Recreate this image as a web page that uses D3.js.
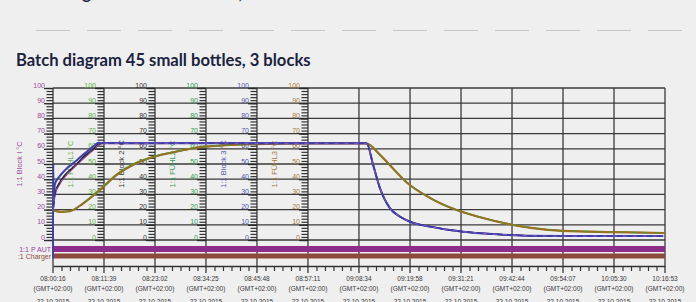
<!DOCTYPE html>
<meta charset="utf-8">
<style>
  body { margin: 0; background: #efefef; }
  svg { display: block; background: #efefef; }
  .lbl { font-family: "Liberation Sans", Arial, sans-serif; }
  .ttl { font-family: Lato, "Open Sans", sans-serif; font-weight: bold; fill: #1b2240; }
</style>
<svg width="696" height="302"></svg>
<script src="https://cdn.jsdelivr.net/npm/d3@7"></script>
<script>

// time axis labels (12 steps of 11:23)
var tickTimes = ["08:00:16","08:11:39","08:23:02","08:34:25","08:45:48","08:57:11",
                 "09:08:34","09:19:58","09:31:21","09:42:44","09:54:07","10:05:30","10:16:53"];
var tickZone = "(GMT+02:00)";
var tickDate = "22.10.2015";

// y axes, one per channel
var axisNames  = ["1:1 Block I °C", "1:1 FÜHL1 °C", "1:1 Block 2 °C", "1:1 FÜHL2 °C", "1:1 Block 3 °C", "1:1 FÜHL3 °C"];
var axisColors = ["#9b4a9b", "#5fb043", "#333333", "#339a55", "#5555aa", "#a87a38"];

// block temperatures, minutes after start
var blockMin = [0, 0.45, 1.5, 2.7, 4.9, 7.1, 9.4, 10.1, 11, 20, 35, 50, 60, 70, 71.5, 73, 75.2, 77.5, 79.7, 84.2, 91.5, 99, 106.5, 113.8, 136.2];
var block1   = [19, 30, 37, 42, 48.5, 54.5, 60.5, 62.5, 63.6, 63.6, 63.7, 63.6, 63.6, 63.6, 49, 34, 21, 15.3, 12, 8.8, 5.5, 3.8, 2.8, 2.6, 2.6];
var block2   = [19, 31, 38, 43, 49, 55.5, 61, 63, 63.7, 63.6, 63.7, 63.6, 63.6, 63.6, 49, 34, 21, 15.3, 12, 8.8, 5.5, 3.8, 2.8, 2.6, 2.6];
var block3   = [20, 37, 42, 46, 51.5, 57, 62.5, 64, 63.8, 63.6, 63.7, 63.6, 63.6, 63.6, 49, 34, 21, 15.3, 12, 8.8, 5.5, 3.8, 2.8, 2.6, 2.6];
// start spike of block 3
var spikeMin = [0, 0.08, 0.2];
var spikeVal = [-12, 50, 24];

// product sensor temperatures
var sensorMin = [0, 1.6, 3.8, 6.7, 10.5, 14.3, 17.9, 21.7, 29, 32.8, 44, 55, 69.9, 73, 75.9, 78.9, 84.2, 90.1, 95.3, 102.7, 107.1, 113.8, 125, 136.6];
var sensor1   = [19.5, 18.6, 19.2, 24.3, 33.5, 43.5, 50, 54.3, 59.2, 61.2, 63.1, 63.6, 63.6, 56.2, 47.2, 38.2, 27.8, 19.9, 15.1, 10, 7.9, 6.1, 5.3, 4.7];
var sensor2   = [19.5, 18.5, 19, 24, 33, 43, 49.5, 54, 59, 61, 63, 63.6, 63.6, 56, 47, 38, 27.6, 19.7, 15, 9.9, 7.8, 6, 5.2, 4.6];
var sensor3   = [19.5, 18.5, 19, 24, 33, 43, 49.5, 54, 59, 61, 63, 63.6, 63.6, 56, 47, 38, 27.6, 19.7, 15, 9.9, 7.8, 6, 5.2, 4.6];

var svg = d3.select("svg");
var parse = d3.timeParse("%H:%M:%S");
var ticks = tickTimes.map(parse);
var t0 = ticks[0];
function at(m) { return new Date(t0.getTime() + m * 60000); }

var x = d3.scaleTime().domain([ticks[0], ticks[ticks.length - 1]]).range([53, 665]);
var y = d3.scaleLinear().domain([0, 100]).range([240, 88]);

// leftovers of the chart above
svg.append("text").attr("class", "ttl").attr("x", 14).attr("y", -1)
    .style("font-size", "16.5px").text("Batch diagram 30 small bottles, 2 blocks");
svg.append("g").selectAll("line").data(ticks).enter().append("line")
    .attr("x1", function(d) { return x(d) - 17; })
    .attr("x2", function(d) { return x(d) + 17; })
    .attr("y1", 30.5).attr("y2", 30.5)
    .attr("stroke", "#c6c6c6").attr("stroke-width", 1);

// title
svg.append("text").attr("class", "ttl").attr("x", 16).attr("y", 66)
    .style("font-size", "16.6px").text("Batch diagram 45 small bottles, 3 blocks");

// grid
var grid = svg.append("g").attr("stroke", "#3a3a3a").attr("stroke-width", 1.3);
grid.selectAll(".h").data(d3.range(0, 101, 10)).enter().append("line")
    .attr("x1", 53).attr("x2", 665)
    .attr("y1", function(d) { return y(d); }).attr("y2", function(d) { return y(d); });
grid.selectAll(".v").data(ticks).enter().append("line")
    .attr("x1", function(d) { return x(d); }).attr("x2", function(d) { return x(d); })
    .attr("y1", 88).attr("y2", 273);

// status bands
svg.append("rect").attr("x", 53).attr("width", 612).attr("y", 246).attr("height", 6).attr("fill", "#8c2d8c");
svg.append("rect").attr("x", 53).attr("width", 612).attr("y", 253.5).attr("height", 5).attr("fill", "#8b4a3b");
svg.append("text").attr("class", "lbl").attr("x", 51).attr("y", 251.5).attr("text-anchor", "end")
    .attr("fill", "#9b3a9b").style("font-size", "7px").text("1:1 P AUT");
svg.append("text").attr("class", "lbl").attr("x", 51).attr("y", 259).attr("text-anchor", "end")
    .attr("fill", "#8b4a3b").style("font-size", "7px").text(":1 Charger");

// time axis
var minor = [];
for (var i = 0; i < ticks.length - 1; i++)
  for (var k = 1; k < 6; k++) minor.push(new Date(ticks[i].getTime() + (ticks[i + 1] - ticks[i]) * k / 6));
var xa = svg.append("g").attr("transform", "translate(0,266)")
    .call(d3.axisBottom(x).tickValues(minor).tickSize(5).tickSizeOuter(0).tickFormat(""));
xa.select(".domain").attr("stroke", "#333").attr("stroke-width", 1.3);
xa.selectAll(".tick line").attr("stroke", "#333").attr("stroke-width", 1.2);

var tl = svg.append("g").attr("class", "lbl").attr("fill", "#3a3a3a").style("font-size", "6.5px")
    .attr("text-anchor", "middle");
ticks.forEach(function(d, i) {
  tl.append("text").attr("x", x(d)).attr("y", 280.5).text(tickTimes[i]);
  tl.append("text").attr("x", x(d)).attr("y", 291).text(tickZone);
  tl.append("text").attr("x", x(d)).attr("y", 304).text(tickDate);
});

// y axes
axisNames.forEach(function(name, i) {
  var ax = x(ticks[i]);
  var gm = svg.append("g").attr("transform", "translate(" + ax + ",0)")
      .call(d3.axisLeft(y).tickValues(d3.range(0, 101, 2)).tickSize(6.5).tickFormat(""));
  gm.select(".domain").remove();
  gm.selectAll(".tick line").attr("stroke", "#333").attr("stroke-width", 1.2);
  var g = svg.append("g").attr("transform", "translate(" + ax + ",0)")
      .call(d3.axisLeft(y).tickValues(d3.range(0, 101, 10)).tickSize(9).tickPadding(-1));
  g.select(".domain").remove();
  g.selectAll(".tick line").attr("stroke", "#2a2a2a").attr("stroke-width", 1.3);
  g.selectAll(".tick text").attr("fill", axisColors[i]).attr("dy", "-0.12em")
      .attr("class", "lbl").style("font-size", "7px");
  svg.append("text").attr("class", "lbl")
      .attr("transform", "translate(" + (ax - 31) + ",164) rotate(-90)")
      .attr("text-anchor", "middle").attr("fill", axisColors[i])
      .style("font-size", "7.5px").text(name);
});

// curves
var line = d3.line()
    .x(function(d) { return x(at(d[0])); })
    .y(function(d) { return y(d[1]); })
    .curve(d3.curveMonotoneX);
function pts(ts, vs) { return ts.map(function(t, i) { return [t, vs[i]]; }); }
function draw(ts, vs, color, w, dash) {
  svg.append("path").datum(pts(ts, vs)).attr("d", line)
      .attr("fill", "none").attr("stroke", color).attr("stroke-width", w)
      .attr("stroke-dasharray", dash || null);
}

draw(sensorMin, sensor1, "#5fb043", 1.4);
draw(sensorMin, sensor2, "#339a55", 1.4);
draw(sensorMin, sensor3, "#98701f", 2.1);
draw(sensorMin, sensor2, "#4a9a40", 1, "3,9");

draw(blockMin, block1, "#8b3a8b", 1.7);
draw(blockMin, block2, "#2a2a2a", 1.4);
draw(spikeMin, spikeVal, "#3d3db0", 1.8);
draw(blockMin, block3, "#3d3db0", 2);
draw(blockMin, block1, "#8a5fb8", 1, "4,6");

</script>
